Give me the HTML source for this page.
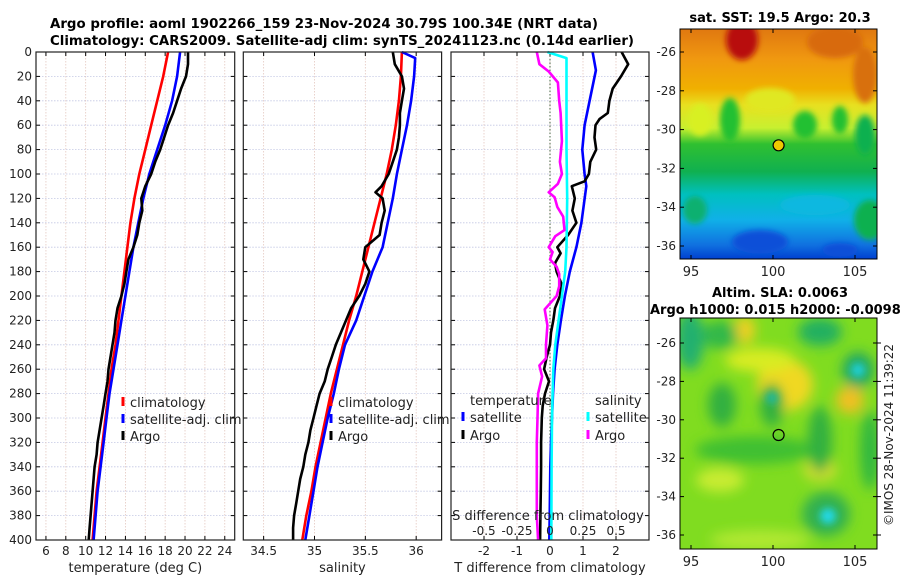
<!DOCTYPE html>
<html><head><meta charset="utf-8">
<style>
html,body{margin:0;padding:0;background:#fff;}
svg{display:block;font-family:"DejaVu Sans","Liberation Sans",sans-serif;}
</style></head>
<body>
<svg id="chart" width="900" height="580" viewBox="0 0 900 580" xmlns="http://www.w3.org/2000/svg">
<defs>
<linearGradient id="sstg" x1="0" y1="0" x2="0" y2="1">
<stop offset="0" stop-color="#e07810"/><stop offset="0.13" stop-color="#f09810"/>
<stop offset="0.26" stop-color="#f0b000"/><stop offset="0.33" stop-color="#e8e020"/>
<stop offset="0.43" stop-color="#c8f030"/><stop offset="0.50" stop-color="#30c030"/>
<stop offset="0.62" stop-color="#10b050"/><stop offset="0.72" stop-color="#00c0c0"/>
<stop offset="0.83" stop-color="#10b0e8"/><stop offset="0.94" stop-color="#1070e0"/>
<stop offset="1" stop-color="#0040d0"/></linearGradient>
<filter id="blur6"><feGaussianBlur stdDeviation="6"/></filter>
<filter id="blur3"><feGaussianBlur stdDeviation="3"/></filter>
<filter id="blur4"><feGaussianBlur stdDeviation="4"/></filter>
<clipPath id="clipTop"><rect x="680" y="29" width="197" height="230"/></clipPath>
<clipPath id="clipBot"><rect x="680" y="318" width="197" height="231"/></clipPath>
</defs>
<g id="titles" font-weight="bold" font-size="13" fill="#000">
<text x="50" y="28" textLength="548" lengthAdjust="spacingAndGlyphs">Argo profile: aoml 1902266_159 23-Nov-2024 30.79S 100.34E (NRT data)</text>
<text x="50" y="45" textLength="584" lengthAdjust="spacingAndGlyphs">Climatology: CARS2009. Satellite-adj clim: synTS_20241123.nc (0.14d earlier)</text>
</g>
<g id="panels"></g>
<g id="maps">
 <text x="780" y="22" text-anchor="middle" font-weight="bold" font-size="13">sat. SST: 19.5 Argo: 20.3</text>
 <g clip-path="url(#clipTop)">
  <rect x="680" y="29" width="197" height="230" fill="url(#sstg)"/>
  <g filter="url(#blur3)">
   <ellipse cx="742" cy="40" rx="16" ry="20" fill="#b81008"/>
   <ellipse cx="835" cy="42" rx="28" ry="16" fill="#d86a10"/>
   <ellipse cx="865" cy="75" rx="12" ry="28" fill="#d87010"/>
   <ellipse cx="730" cy="120" rx="10" ry="22" fill="#20c030"/>
   <ellipse cx="805" cy="125" rx="12" ry="14" fill="#20c030"/>
   <ellipse cx="840" cy="120" rx="8" ry="14" fill="#20c030"/>
   <ellipse cx="865" cy="135" rx="10" ry="20" fill="#10b050"/>
   <ellipse cx="700" cy="120" rx="12" ry="16" fill="#d8f020"/>
   <ellipse cx="770" cy="100" rx="25" ry="12" fill="#e0e820"/>
   <ellipse cx="870" cy="220" rx="16" ry="20" fill="#10b050"/>
   <ellipse cx="695" cy="210" rx="12" ry="14" fill="#10b070"/>
   <ellipse cx="815" cy="205" rx="35" ry="10" fill="#10b8e0"/>
   <ellipse cx="760" cy="242" rx="28" ry="12" fill="#0850d8"/>
   <ellipse cx="840" cy="250" rx="18" ry="7" fill="#0850d8"/>
  </g>
 </g>
 <rect x="680" y="29" width="197" height="230" fill="none" stroke="#000" stroke-width="1"/>
 <text x="780" y="297" text-anchor="middle" font-weight="bold" font-size="13">Altim. SLA: 0.0063</text>
 <text x="650" y="314" font-weight="bold" font-size="13">Argo h1000: 0.015 h2000: -0.0098</text>
 <g clip-path="url(#clipBot)">
  <rect x="680" y="318" width="197" height="231" fill="#80dc20"/>
  <g filter="url(#blur6)">
   <ellipse cx="785" cy="385" rx="28" ry="26" fill="#f0d820"/>
   <ellipse cx="760" cy="360" rx="35" ry="12" fill="#d8ec20"/>
   <ellipse cx="745" cy="330" rx="10" ry="14" fill="#f0d020"/>
   <ellipse cx="850" cy="400" rx="14" ry="14" fill="#f0c020"/>
   <ellipse cx="820" cy="470" rx="16" ry="10" fill="#e0e030"/>
   <ellipse cx="720" cy="480" rx="24" ry="12" fill="#c8ec30"/>
   <ellipse cx="690" cy="340" rx="14" ry="30" fill="#20b070"/>
   <ellipse cx="720" cy="335" rx="18" ry="14" fill="#30b848"/>
   <ellipse cx="820" cy="332" rx="22" ry="14" fill="#20b060"/>
   <ellipse cx="722" cy="405" rx="14" ry="22" fill="#30b040"/>
   <ellipse cx="772" cy="405" rx="12" ry="22" fill="#30b040"/>
   <ellipse cx="755" cy="450" rx="60" ry="14" fill="#40c030"/>
   <ellipse cx="820" cy="440" rx="12" ry="34" fill="#30b040"/>
   <ellipse cx="870" cy="450" rx="10" ry="40" fill="#30b840"/>
   <ellipse cx="826" cy="514" rx="24" ry="22" fill="#30b050"/>
   <ellipse cx="858" cy="370" rx="16" ry="18" fill="#20a860"/>
   <ellipse cx="760" cy="540" rx="50" ry="10" fill="#b0e830"/>
  </g>
  <g filter="url(#blur4)">
   <circle cx="828" cy="516" r="8" fill="#20d8e8"/>
   <circle cx="858" cy="370" r="7" fill="#20d0d8"/>
   <circle cx="772" cy="398" r="6" fill="#20b8a0"/>
  </g>
 </g>
 <rect x="680" y="318" width="197" height="231" fill="none" stroke="#000" stroke-width="1"/>
 <circle cx="778.6" cy="145.3" r="5.5" fill="#f0c800" stroke="#000" stroke-width="1.2"/>
 <circle cx="778.6" cy="435" r="5.5" fill="none" stroke="#000" stroke-width="1.2"/>
 <text transform="translate(893,435) rotate(-90)" text-anchor="middle" font-size="12" fill="#222">©IMOS 28-Nov-2024 11:39:22</text>
</g>
</svg>
<script>
// ---------- data ----------
const depthStd = [0,20,40,60,80,100,120,140,160,180,200,220,240,260,280,300,320,340,360,380,400];
const tempClim = [18.3,17.8,17.2,16.6,16.0,15.4,14.9,14.5,14.2,13.9,13.6,13.3,13.0,12.6,12.3,12.0,11.7,11.4,11.1,10.9,10.7];
const tempSat  = [19.5,19.2,18.7,18.0,17.2,16.4,15.8,15.3,14.8,14.4,14.0,13.6,13.2,12.8,12.4,12.1,11.8,11.5,11.2,11.0,10.8];
const depthArgoT = [0,10,20,30,40,50,60,70,80,90,100,110,120,130,140,150,160,170,180,190,200,210,220,230,240,250,260,270,280,290,300,310,320,330,340,350,360,370,380,390,400];
const tempArgo = [20.3,20.3,20.1,19.6,19.2,18.8,18.3,17.9,17.5,17.0,16.6,16.0,15.6,15.7,15.4,15.2,14.8,14.3,14.1,13.9,13.6,13.2,13.0,12.9,12.7,12.5,12.3,12.2,12.0,11.8,11.6,11.4,11.2,11.1,10.9,10.8,10.7,10.6,10.5,10.4,10.3];
const salClim = [35.86,35.85,35.83,35.80,35.76,35.71,35.65,35.59,35.53,35.47,35.41,35.34,35.28,35.22,35.16,35.11,35.06,35.01,34.97,34.92,34.88];
const depthSalSat = [0,5,20,40,60,80,100,120,140,160,180,200,220,240,260,280,300,320,340,360,380,400];
const salSat = [35.86,35.99,35.98,35.95,35.91,35.86,35.81,35.77,35.72,35.67,35.57,35.49,35.41,35.30,35.24,35.19,35.13,35.08,35.03,34.99,34.95,34.91];
const depthArgoS = [0,10,20,30,40,50,60,70,80,90,100,110,115,120,130,140,150,155,160,170,180,190,200,210,220,230,240,250,260,270,280,290,300,310,320,330,340,350,360,370,380,390,400];
const salArgo = [35.77,35.79,35.86,35.88,35.86,35.84,35.84,35.83,35.81,35.77,35.73,35.66,35.60,35.67,35.69,35.66,35.64,35.57,35.50,35.48,35.54,35.50,35.44,35.36,35.31,35.26,35.21,35.17,35.13,35.10,35.05,35.02,34.99,34.96,34.94,34.91,34.89,34.86,34.84,34.82,34.80,34.79,34.79];
const depthDT = [0,15,40,60,80,100,110,140,160,180,200,220,240,260,280,300,320,340,360,380,400];
const tDiffSat = [1.29,1.39,1.2,1.05,0.98,1.05,1.1,0.95,0.8,0.6,0.45,0.33,0.22,0.14,0.09,0.06,0.03,0.01,0.0,-0.01,-0.02];
const depthDTA = [0,10,20,30,40,50,55,60,70,80,90,100,106,110,120,130,140,150,160,165,173,180,190,200,210,220,230,240,250,260,270,280,290,300,320,340,360,380,400];
const tDiffArgo = [2.17,2.37,2.15,1.9,1.8,1.75,1.5,1.38,1.35,1.4,1.22,1.18,1.05,0.66,0.75,0.68,0.8,0.55,0.22,0.32,0.15,0.2,0.35,0.3,0.15,0.1,0.03,0.0,-0.1,-0.18,-0.03,-0.15,-0.22,-0.25,-0.27,-0.27,-0.28,-0.29,-0.3];
const depthDS = [0,5,40,80,120,160,180,200,220,240,260,280,300,340,400];
const sDiffSat = [-0.02,0.125,0.125,0.125,0.13,0.125,0.115,0.09,0.065,0.04,0.025,0.02,0.015,0.012,0.01];
const depthDSA = [0,10,16,25,40,50,60,73,90,100,108,115,119,127,135,146,151,160,164,170,176,182,192,200,211,224,240,251,257,266,280,300,320,340,360,380,400];
const sDiffArgo = [-0.1,-0.08,-0.01,0.06,0.07,0.08,0.085,0.09,0.075,0.09,0.06,-0.01,0.035,0.055,0.1,0.11,0.04,-0.01,0.02,0.0,0.05,0.07,0.07,0.05,-0.04,-0.02,-0.03,-0.03,-0.08,-0.06,-0.09,-0.095,-0.1,-0.1,-0.1,-0.1,-0.09];
const depthTicks = [0,20,40,60,80,100,120,140,160,180,200,220,240,260,280,300,320,340,360,380,400];
const tempTicks = [6,8,10,12,14,16,18,20,22,24];
const salTicks = [34.5,35,35.5,36];
const tdTicks = [-2,-1,0,1,2];
const sdTicks = [-0.5,-0.25,0,0.25,0.5];
const sdTickLabels = ["-0.5","-0.25","0","0.25","0.5"];
const lonTicks = [95,100,105];
const latTicks = [-26,-28,-30,-32,-34,-36];

// ---------- scales ----------
const NS = "http://www.w3.org/2000/svg";
const TOP = 52, BOT = 540;
function yD(d){ return TOP + d*(BOT-TOP)/400; }
function lin(d0,d1,r0,r1){ return v => r0 + (v-d0)*(r1-r0)/(d1-d0); }
const P1 = {x0:36, x1:234.7}, P2 = {x0:243.3, x1:441.6}, P3 = {x0:451, x1:649};
const xT = lin(5,25,P1.x0,P1.x1);
const xS = lin(34.30,36.25,P2.x0,P2.x1);
const xTD = lin(-3,3,P3.x0,P3.x1);
const xSD = lin(-0.75,0.75,P3.x0,P3.x1);
const lonX = lin(95,105,691,855);
const latYTop = lin(-26,-36,52,246);
const latYBot = lin(-26,-36,343,535);

const root = document.getElementById('panels');
function mk(tag, attrs, parent){
  const e = document.createElementNS(NS, tag);
  for (const k in attrs) e.setAttribute(k, attrs[k]);
  (parent||root).appendChild(e);
  return e;
}
function txt(x,y,s,anchor,size,parent){
  const t = mk('text',{x:x,y:y,'text-anchor':anchor||'middle','font-size':size||12,fill:'#222'},parent);
  t.textContent = s;
  return t;
}

function panel(P, name, xticks, xscale, xlabels, xtitle, showY){
  const g = mk('g',{});
  
  
  depthTicks.forEach(d=>{
    const l = mk('line',{x1:P.x0,x2:P.x1,y1:yD(d),y2:yD(d),stroke:'#c4c8e4','stroke-width':0.8,'stroke-dasharray':'1.5,1.5'},g);
    
    
  });
  xticks.forEach((v,i)=>{
    const x = xscale(v);
    const l = mk('line',{x1:x,x2:x,y1:TOP,y2:BOT,stroke:'#e4c8c0','stroke-width':0.8,'stroke-dasharray':'1.5,1.5'},g);
    
    
    mk('line',{x1:x,x2:x,y1:BOT,y2:BOT-4,stroke:'#000'},g);
    mk('line',{x1:x,x2:x,y1:TOP,y2:TOP+4,stroke:'#000'},g);
    const t = txt(x,555,xlabels[i],'middle',12,g);
    
    
  });
  depthTicks.forEach(d=>{
    mk('line',{x1:P.x0,x2:P.x0+4,y1:yD(d),y2:yD(d),stroke:'#000'},g);
    mk('line',{x1:P.x1,x2:P.x1-4,y1:yD(d),y2:yD(d),stroke:'#000'},g);
    if (showY){
      const t = txt(P.x0-4,yD(d)+4,String(d),'end',12,g);
      
      
    }
  });
  const t = txt((P.x0+P.x1)/2,572,xtitle,'middle',13,g);
  
  
  return g;
}
function frame(P,g){
  mk('rect',{x:P.x0,y:TOP,width:P.x1-P.x0,height:BOT-TOP,fill:'none',stroke:'#222','stroke-width':1.2},g);
}
function series(g, xs, ds, xscale, color, name){
  const pts = xs.map((v,i)=>xscale(v).toFixed(1)+','+yD(ds[i]).toFixed(1)).join(' ');
  const p = mk('polyline',{points:pts,fill:'none',stroke:color,'stroke-width':2.6,'stroke-linejoin':'round'},g);
  
  
}
function legendEntry(g,x,y,color,label){
  const e = mk('g',{},g);
  
  
  mk('line',{x1:x,x2:x,y1:y-10,y2:y-1,stroke:color,'stroke-width':3},e);
  txt(x+7,y,label,'start',13,e);
}

const g1 = panel(P1,'temperature-panel',tempTicks,xT,tempTicks.map(String),'temperature (deg C)',true);
series(g1,tempClim,depthStd,xT,'#ff0000','temp-climatology-line');
series(g1,tempSat,depthStd,xT,'#0000ff','temp-satellite-line');
series(g1,tempArgo,depthArgoT,xT,'#000000','temp-argo-line');
frame(P1,g1);
legendEntry(g1,123,407,'#ff0000','climatology');
legendEntry(g1,123,424,'#0000ff','satellite-adj. clim');
legendEntry(g1,123,441,'#000000','Argo');

const g2 = panel(P2,'salinity-panel',salTicks,xS,salTicks.map(String),'salinity',false);
series(g2,salClim,depthStd,xS,'#ff0000','sal-climatology-line');
series(g2,salSat,depthSalSat,xS,'#0000ff','sal-satellite-line');
series(g2,salArgo,depthArgoS,xS,'#000000','sal-argo-line');
frame(P2,g2);
legendEntry(g2,331,407,'#ff0000','climatology');
legendEntry(g2,331,424,'#0000ff','satellite-adj. clim');
legendEntry(g2,331,441,'#000000','Argo');

const g3 = panel(P3,'difference-panel',tdTicks,xTD,tdTicks.map(String),'T difference from climatology',false);
const z = mk('line',{x1:xTD(0),x2:xTD(0),y1:TOP,y2:BOT,stroke:'#446644','stroke-width':1,'stroke-dasharray':'1.5,2'},g3);


series(g3,tDiffSat,depthDT,xTD,'#0000ff','tdiff-satellite-line');
series(g3,tDiffArgo,depthDTA,xTD,'#000000','tdiff-argo-line');
series(g3,sDiffSat,depthDS,xSD,'#00ffff','sdiff-satellite-line');
series(g3,sDiffArgo,depthDSA,xSD,'#ff00ff','sdiff-argo-line');
frame(P3,g3);
let lt = txt(470,405,'temperature','start',13,g3);


lt = txt(595,405,'salinity','start',13,g3);


legendEntry(g3,463,422,'#0000ff','satellite');
legendEntry(g3,463,440,'#000000','Argo');
legendEntry(g3,588,422,'#00ffff','satellite');
legendEntry(g3,588,440,'#ff00ff','Argo');
lt = txt(548,520,'S difference from climatology','middle',13,g3);


sdTicks.forEach((v,i)=>{
  const t = txt(xSD(v),535,sdTickLabels[i],'middle',12,g3);
  
  
});

const maps = document.getElementById('maps');
function mapAxes(y0,y1,latY,rightTicks){
  lonTicks.forEach(v=>{
    const x = lonX(v);
    mk('line',{x1:x,x2:x,y1:y1,y2:y1-4,stroke:'#000'},maps);
    mk('line',{x1:x,x2:x,y1:y0,y2:y0+4,stroke:'#000'},maps);
    const t = txt(x,y1+17,String(v),'middle',13,maps);
    
    
  });
  latTicks.forEach(v=>{
    const y = latY(v);
    mk('line',{x1:680,x2:684,y1:y,y2:y,stroke:'#000'},maps);
    mk('line',{x1:877,x2:873,y1:y,y2:y,stroke:'#000'},maps);
    if (rightTicks) mk('line',{x1:877,x2:881,y1:y,y2:y,stroke:'#000'},maps);
    const t = txt(676,y+4,String(v),'end',12,maps);
    
    
  });
}
mapAxes(29,259,latYTop,false);
mapAxes(318,549,latYBot,true);
</script>
</body></html>
